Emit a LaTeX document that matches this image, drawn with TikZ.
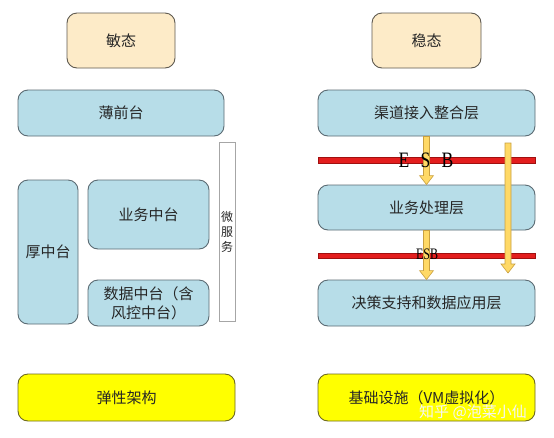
\documentclass[tikz,border=0pt]{standalone}
\usepackage{fontspec}
\setmainfont{Noto Sans CJK SC}
\newfontfamily\esbfont{Liberation Serif}
\usetikzlibrary{positioning, calc}
\definecolor{Box}{HTML}{B7DDE8}
\definecolor{BoxLine}{HTML}{5B6B73}
\definecolor{State}{HTML}{FDEBC8}
\definecolor{StateLine}{HTML}{5F5A50}
\definecolor{Base}{HTML}{FFFF00}
\definecolor{BaseLine}{HTML}{6E6A1E}
\definecolor{Bus}{HTML}{E31E1E}
\definecolor{BusLine}{HTML}{A01010}
\definecolor{Gold}{HTML}{FFD966}
\definecolor{GoldLine}{HTML}{C9A040}
\definecolor{Ink}{HTML}{262626}
\tikzset{
    layernode/.style={rectangle, rounded corners=10pt, draw=BoxLine, fill=Box, line width=0.9pt, text=Ink, align=center, font=\fontsize{15}{19}\selectfont, inner sep=0pt},
    statenode/.style={layernode, draw=StateLine, fill=State},
    basenode/.style={layernode, draw=BaseLine, fill=Base},
    msnode/.style={rectangle, draw=gray!70, fill=white, line width=0.7pt, text=Ink, align=center, inner sep=0pt, font=\fontsize{12}{15}\selectfont},
    esbbar/.style={rectangle, draw=BusLine, fill=Bus, line width=0.5pt, minimum width=217pt, inner sep=0pt},
    esbarrow/.style={draw=GoldLine, fill=Gold, line width=0.6pt, line join=miter},
    esbtext/.style={text=black, inner sep=0pt, anchor=base, font=\esbfont},
}
\begin{document}
\begin{tikzpicture}[x=1pt, y=-1pt]
    \useasboundingbox (0,0) rectangle (554,437);
    \fill[white] (0,0) rectangle (554,437);

    % 1. 敏态
    \node[statenode, minimum width=108pt, minimum height=55pt] (agile) at (121, 40.5) {敏态};
    \node[layernode, minimum width=206pt, minimum height=46pt] (front) at (121, 113) {薄前台};
    \node[layernode, minimum width=60pt, minimum height=144pt] (thick) at (48, 252) {厚中台};
    \node[layernode, minimum width=121pt, minimum height=69pt] (bizmid) at (148.5, 214.5) {业务中台};
    \node[layernode, minimum width=121pt, minimum height=46pt] (datamid) at (148.5, 303) {数据中台（含\\风控中台）};
    \node[msnode, minimum width=16pt, minimum height=179pt] (micro) at (227, 231.5) {微\\服\\务};
    \node[basenode, minimum width=217pt, minimum height=47pt] (elastic) at (126.5, 397.5) {弹性架构};

    % 2. 稳态
    \node[statenode, minimum width=109pt, minimum height=55pt] (stable) at (426.5, 40.5) {稳态};
    \node[layernode, minimum width=217pt, minimum height=46pt] (chan) at (426.5, 113) {渠道接入整合层};
    \node[layernode, minimum width=217pt, minimum height=45pt] (proc) at (426.5, 207.5) {业务处理层};
    \node[layernode, minimum width=217pt, minimum height=46pt] (decide) at (426.5, 303) {决策支持和数据应用层};
    \node[basenode, minimum width=217pt, minimum height=47pt] (infra) at (426.5, 397.5) {基础设施（VM虚拟化）};

    % ESB 总线
    \node[esbbar, minimum height=6pt] (busA) at (426.5, 160) {};
    \node[esbbar, minimum height=5pt] (busB) at (426.5, 255.5) {};

    % 箭头
    \draw[esbarrow] ($(chan.south)+(-3,0)$) -- ($(proc.north)+(-3,-9)$) -- ($(proc.north)+(-7,-9)$)
        -- (proc.north) -- ($(proc.north)+(7,-9)$) -- ($(proc.north)+(3,-9)$) -- ($(chan.south)+(3,0)$) -- cycle;
    \draw[esbarrow] ($(proc.south)+(-3,0)$) -- ($(decide.north)+(-3,-9)$) -- ($(decide.north)+(-7,-9)$)
        -- (decide.north) -- ($(decide.north)+(7,-9)$) -- ($(decide.north)+(3,-9)$) -- ($(proc.south)+(3,0)$) -- cycle;
    \coordinate (longtop) at (508, 143);
    \coordinate (longend) at (508, 273);
    \draw[esbarrow] ($(longtop)+(-3,0)$) -- ($(longend)+(-3,-9)$) -- ($(longend)+(-7,-9)$)
        -- (longend) -- ($(longend)+(7,-9)$) -- ($(longend)+(3,-9)$) -- ($(longtop)+(3,0)$) -- cycle;

    \node[esbtext, font=\esbfont\fontsize{22}{22}\selectfont] (esbA) at (426, 167.5) {\scalebox{0.8}[1]{E\hspace{14pt}S\hspace{14pt}B}};
    \node[esbtext, font=\esbfont\fontsize{16}{16}\selectfont] (esbB) at (427, 259) {\scalebox{0.75}[1]{ESB}};

    % 水印
    \node[text=white!92!gray, font=\fontsize{15}{15}\selectfont, anchor=west, inner sep=0pt] (mark) at (419, 412) {知乎 @泡菜小仙};
\end{tikzpicture}
\end{document}
